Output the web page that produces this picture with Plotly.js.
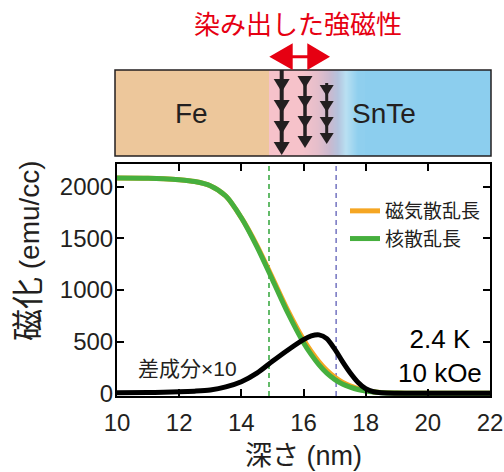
<!DOCTYPE html>
<html><head><meta charset="utf-8">
<script src="https://cdn.plot.ly/plotly-3.0.1.min.js"></script>
<style>html,body{margin:0;padding:0;background:#fff;} #chart{width:504px;height:472px;}</style>
</head><body><div id="chart"></div>
<script>
// ---- data ----
const depth        = [10, 11, 11.5, 12, 12.5, 13, 13.5, 14, 14.5, 15, 15.5, 16, 16.25, 16.5, 16.75, 17, 17.25, 17.5, 17.75, 18, 18.25, 18.5, 19, 19.5, 20, 21, 22];
const magneticSLD  = [2085, 2083, 2078, 2068, 2050, 2010, 1910, 1700, 1432, 1118, 800, 520, 405, 305, 222, 158, 108, 72, 46, 28, 16, 9, 3, 1, 0, 0, 0];
const nuclearSLD   = [2085, 2083, 2078, 2068, 2050, 2010, 1910, 1700, 1420, 1100, 775, 490, 375, 275, 195, 135, 90, 60, 37, 22, 12, 6, 2, 1, 0, 0, 0];
const diffX10      = [6, 8, 10, 14, 21, 33, 62, 112, 195, 310, 420, 520, 556, 566, 530, 430, 310, 200, 108, 45, 15, 5, 1, 0, 0, 0, 0];
const seriesNames  = ['磁気散乱長', '核散乱長'];
const diffLabel    = '差成分×10';
const condLabel    = '2.4 K<br>10 kOe';
const interfaceFe  = 14.89;
const interfaceSnTe = 17.05;
const xTicks = [10, 12, 14, 16, 18, 20, 22];
const yTicks = [0, 500, 1000, 1500, 2000];
const xTitle = '深さ (nm)';
const yTitle = '<span style="font-size:32px">磁化</span> (emu/cc)';
const topTitle = '染み出した強磁性';
const layerLabels = ['Fe', 'SnTe'];

// ---- layout geometry ----
const W = 504, H = 472, L = 117, R = 14, T = 70, B = 76;
const pw = W - L - R, ph = H - T - B;
const px = x => (x - L) / pw;
const py = y => (H - B - y) / ph;
const yTop = py(164);
const FONT = 'Liberation Sans, Arial, Noto Sans CJK JP, sans-serif';
const INK = '#231F20';

const traces = [
  {x: depth, y: magneticSLD, name: seriesNames[0], type: 'scatter', mode: 'lines',
   line: {color: '#F5A623', width: 5, shape: 'spline', smoothing: 0.8}},
  {x: depth, y: nuclearSLD, name: seriesNames[1], type: 'scatter', mode: 'lines',
   line: {color: '#46AF3E', width: 5, shape: 'spline', smoothing: 0.8}},
  {x: depth, y: diffX10, name: diffLabel, type: 'scatter', mode: 'lines', showlegend: false,
   line: {color: '#000000', width: 5, shape: 'spline', smoothing: 0.8}}
];

const shapes = [
  {type: 'line', xref: 'x', yref: 'paper', x0: interfaceFe, x1: interfaceFe, y0: 0, y1: yTop,
   line: {color: '#3DAA45', width: 1.6, dash: '5px,4px'}, layer: 'below'},
  {type: 'line', xref: 'x', yref: 'paper', x0: interfaceSnTe, x1: interfaceSnTe, y0: 0, y1: yTop,
   line: {color: '#7C7CC4', width: 1.6, dash: '5px,4px'}, layer: 'below'}
];

// schematic layers
function rect(x0, x1, y0, y1, fill) {
  shapes.push({type: 'rect', xref: 'paper', yref: 'paper', x0: px(x0), x1: px(x1), y0: py(y1), y1: py(y0),
    fillcolor: fill, line: {width: 0}});
}
rect(115, 269, 70, 156, '#EDC79B');
const stops = [[269, [246,194,202]], [303, [244,194,202]], [318, [228,190,203]], [330, [201,185,207]],
               [338, [181,195,221]], [346, [185,224,242]], [358, [143,207,238]], [491, [135,204,238]]];
function colAt(x) {
  for (let i = 0; i < stops.length - 1; i++) {
    const [a, ca] = stops[i], [b, cb] = stops[i + 1];
    if (x >= a && x <= b) {
      const t = (x - a) / (b - a);
      return 'rgb(' + ca.map((v, k) => Math.round(v + (cb[k] - v) * t)).join(',') + ')';
    }
  }
  return 'rgb(135,204,238)';
}
rect(269, 300, 70, 156, colAt(269));
for (let x = 300; x < 365; x++) rect(x, x + 1.2, 70, 156, colAt(x + 0.5));
rect(365, 491, 70, 156, colAt(400));
shapes.push({type: 'rect', xref: 'paper', yref: 'paper', x0: px(115), x1: px(491), y0: py(156), y1: py(70),
  fillcolor: 'rgba(0,0,0,0)', line: {color: INK, width: 1.5}});

// magnetisation arrows
function arrowColumn(xc, yStart, tips, headW, headL, shaftW) {
  shapes.push({type: 'line', xref: 'paper', yref: 'paper', x0: px(xc), x1: px(xc),
    y0: py(yStart), y1: py(tips[tips.length - 1] - headL / 2), line: {color: INK, width: shaftW}});
  tips.forEach(t => {
    const p = 'M' + px(xc - headW / 2) + ',' + py(t - headL) + ' L' + px(xc + headW / 2) + ',' + py(t - headL) +
              ' L' + px(xc) + ',' + py(t) + ' Z';
    shapes.push({type: 'path', xref: 'paper', yref: 'paper', path: p, fillcolor: INK, line: {width: 0}});
  });
}
arrowColumn(281.7, 70, [92, 113, 134, 155], 16, 13, 4);
arrowColumn(305, 78, [88, 108, 128, 148], 15, 12, 3.5);
arrowColumn(326.7, 83, [96, 112, 128, 144], 14, 11, 3);

// red double arrow
(function () {
  const pts = [[269.3, 56.7], [292.7, 43.3], [292.7, 55.2], [307.3, 55.2], [307.3, 43.3], [330, 56.7],
               [307.3, 70], [307.3, 58.2], [292.7, 58.2], [292.7, 70]];
  const p = 'M' + pts.map(q => px(q[0]) + ',' + py(q[1])).join(' L') + ' Z';
  shapes.push({type: 'path', xref: 'paper', yref: 'paper', path: p, fillcolor: '#E60012', line: {width: 0}});
})();

function note(text, x, y, font, extra) {
  return Object.assign({text: text, xref: 'paper', yref: 'paper', x: px(x), y: py(y), showarrow: false,
    xanchor: 'center', yanchor: 'middle', font: font}, extra || {});
}
const annotations = [
  note(topTitle, 297.5, 23, {size: 26, color: '#E60012', family: 'Noto Sans CJK JP, sans-serif'}),
  note(layerLabels[0], 191.7, 113, {size: 28, color: INK, family: FONT}),
  note(layerLabels[1], 384, 113, {size: 28, color: INK, family: FONT}),
  note(yTitle, 28, 251, {size: 28, color: INK, family: FONT}, {textangle: -90}),
  note(diffLabel, 187.5, 368, {size: 21, color: INK, family: FONT}),
  note(condLabel, 440, 356, {size: 26, color: '#000', family: FONT}, {align: 'center'})
];

const axisCommon = {showline: true, linewidth: 2, linecolor: '#000', mirror: 'allticks', ticks: 'inside',
  ticklen: 7, tickwidth: 2, tickcolor: '#000', showgrid: false, zeroline: false,
  tickfont: {size: 24, color: INK, family: FONT}};

const layout = {
  width: W, height: H,
  margin: {l: L, r: R, t: T, b: B},
  paper_bgcolor: '#fff', plot_bgcolor: '#fff',
  font: {family: FONT, color: INK},
  xaxis: Object.assign({}, axisCommon, {range: [10, 22], tickvals: xTicks, ticktext: xTicks.map(String),
    ticklabelstandoff: 4,
    title: {text: xTitle, font: {size: 27, color: INK, family: FONT}, standoff: 11}}),
  yaxis: Object.assign({}, axisCommon, {range: [-26, 2220], domain: [0, yTop], tickvals: yTicks,
    ticktext: yTicks.map(String), ticklabelstandoff: -3}),
  showlegend: true,
  legend: {x: px(345), y: py(192), xanchor: 'left', yanchor: 'top', bgcolor: 'rgba(0,0,0,0)',
    font: {size: 19, color: INK, family: 'Noto Sans CJK JP, sans-serif'}, tracegroupgap: 0},
  shapes: shapes,
  annotations: annotations
};

Plotly.newPlot('chart', traces, layout, {displayModeBar: false, staticPlot: true});
</script>
</body></html>
